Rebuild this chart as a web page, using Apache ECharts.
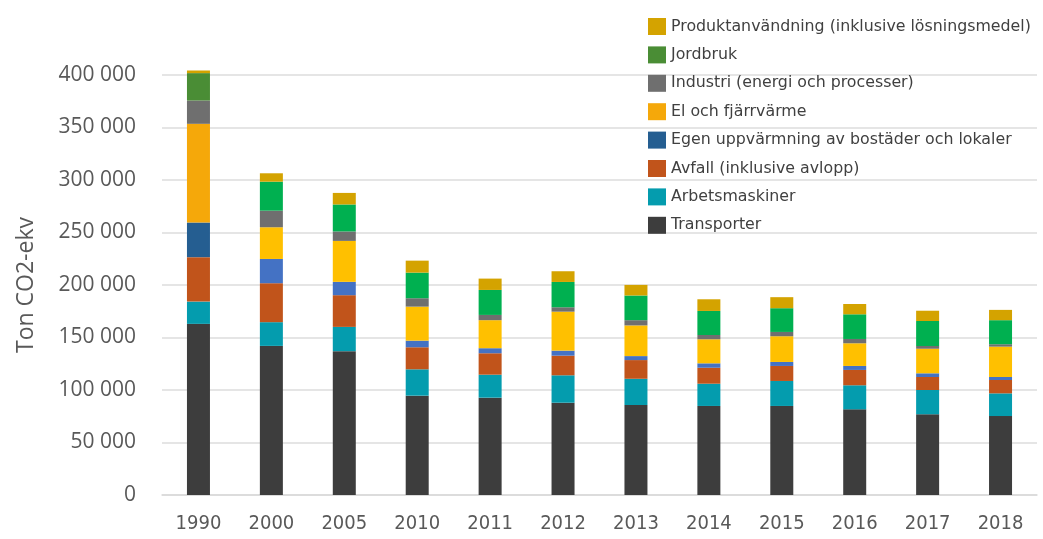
<!DOCTYPE html>
<html>
<head>
<meta charset="utf-8">
<title>Utsläpp av växthusgaser</title>
<script src="https://cdn.jsdelivr.net/npm/echarts@6/dist/echarts.min.js"></script>
<style>
  html, body { margin: 0; padding: 0; background: #fff; }
  #chart { width: 1043px; height: 539px; }
</style>
</head>
<body>
<div id="chart"></div>
<script>
// år på x-axeln
const years = ['1990', '2000', '2005', '2010', '2011', '2012', '2013', '2014', '2015', '2016', '2017', '2018']

// sektorer, nerifrån och upp i stapeln
const sectors = [
  'Transporter',
  'Arbetsmaskiner',
  'Avfall (inklusive avlopp)',
  'Egen uppvärmning av bostäder och lokaler',
  'El och fjärrvärme',
  'Industri (energi och processer)',
  'Jordbruk',
  'Produktanvändning (inklusive lösningsmedel)'
]

// ton CO2-ekv per sektor och år
const transporter = [163000, 142000, 137000, 94600, 92700, 87900, 85700, 84800, 84800, 81600, 76900, 75200]
const arbetsmaskiner = [21200, 22600, 23100, 25100, 21900, 26100, 25000, 21200, 23800, 22900, 23100, 21600]
const avfall = [42300, 37100, 30200, 21000, 20400, 18700, 17800, 15200, 14300, 14600, 12400, 12700]
const egenUppvarmning = [33000, 23100, 12700, 6300, 4800, 4800, 3800, 4200, 3800, 3800, 3500, 2900]
const elFjarrvarme = [94000, 30200, 39000, 32400, 26700, 37100, 29200, 22900, 24500, 21600, 23400, 28900]
const industri = [22200, 15800, 9000, 8000, 5000, 4200, 5000, 4100, 4100, 4100, 2600, 2300]
const jordbruk = [26100, 27600, 25700, 24400, 23800, 24100, 23500, 22900, 22600, 23500, 23800, 22900]
const produktanvandning = [2500, 8000, 11000, 11400, 10800, 10200, 10100, 11100, 10500, 9800, 9800, 9800]

const seriesValues = [transporter, arbetsmaskiner, avfall, egenUppvarmning, elFjarrvarme, industri, jordbruk, produktanvandning]

// färger (legend + 1990) och avvikande färger för senare år
const colors = ['#3d3d3d', '#049cae', '#c1541b', '#255e91', '#f5a80a', '#6f6f6f', '#4a8d35', '#d4a300']
const laterColors = [null, null, null, '#4472c4', '#ffc000', null, '#00b050', null]

function fmt(v) {
  return String(v).replace(/\B(?=(\d{3})+(?!\d))/g, ' ')
}

const chart = echarts.init(document.getElementById('chart'))

const series = sectors.map((name, i) => ({
  name,
  type: 'bar',
  stack: 'total',
  barWidth: 23,
  clip: false,
  itemStyle: { color: colors[i] },
  data: seriesValues[i].map((v, j) => {
    if (j > 0 && laterColors[i]) {
      return { value: v, itemStyle: { color: laterColors[i] } }
    }
    return v
  })
}))

chart.setOption({
  animation: false,
  grid: { left: 162, right: 6, top: 75, bottom: 44 },
  legend: {
    data: sectors.slice().reverse(),
    orient: 'vertical',
    left: 643,
    top: 13,
    icon: 'rect',
    itemWidth: 18,
    itemHeight: 17,
    itemGap: 11.4,
    textStyle: {
      fontFamily: 'DejaVu Sans',
      fontSize: 15.8,
      color: '#404040',
      lineHeight: 17
    }
  },
  xAxis: {
    type: 'category',
    data: years,
    axisLine: { lineStyle: { color: '#d9d9d9', width: 1.5 } },
    axisTick: { show: false },
    axisLabel: {
      margin: 19,
      fontFamily: "'Liberation Sans Narrow', 'DejaVu Sans Condensed', sans-serif",
      fontSize: 20,
      color: '#595959'
    }
  },
  yAxis: {
    type: 'value',
    min: 0,
    max: 400000,
    interval: 50000,
    name: 'Ton CO2-ekv',
    nameLocation: 'middle',
    nameGap: 124,
    nameTextStyle: { fontFamily: 'Open Sans', fontSize: 23, color: '#595959' },
    axisLine: { show: false },
    axisTick: { show: false },
    axisLabel: {
      margin: 26,
      fontFamily: 'Open Sans',
      fontSize: 21,
      color: '#595959',
      formatter: fmt
    },
    splitLine: { lineStyle: { color: '#dcdcdc', width: 1.5 } }
  },
  series
})
</script>
</body>
</html>
